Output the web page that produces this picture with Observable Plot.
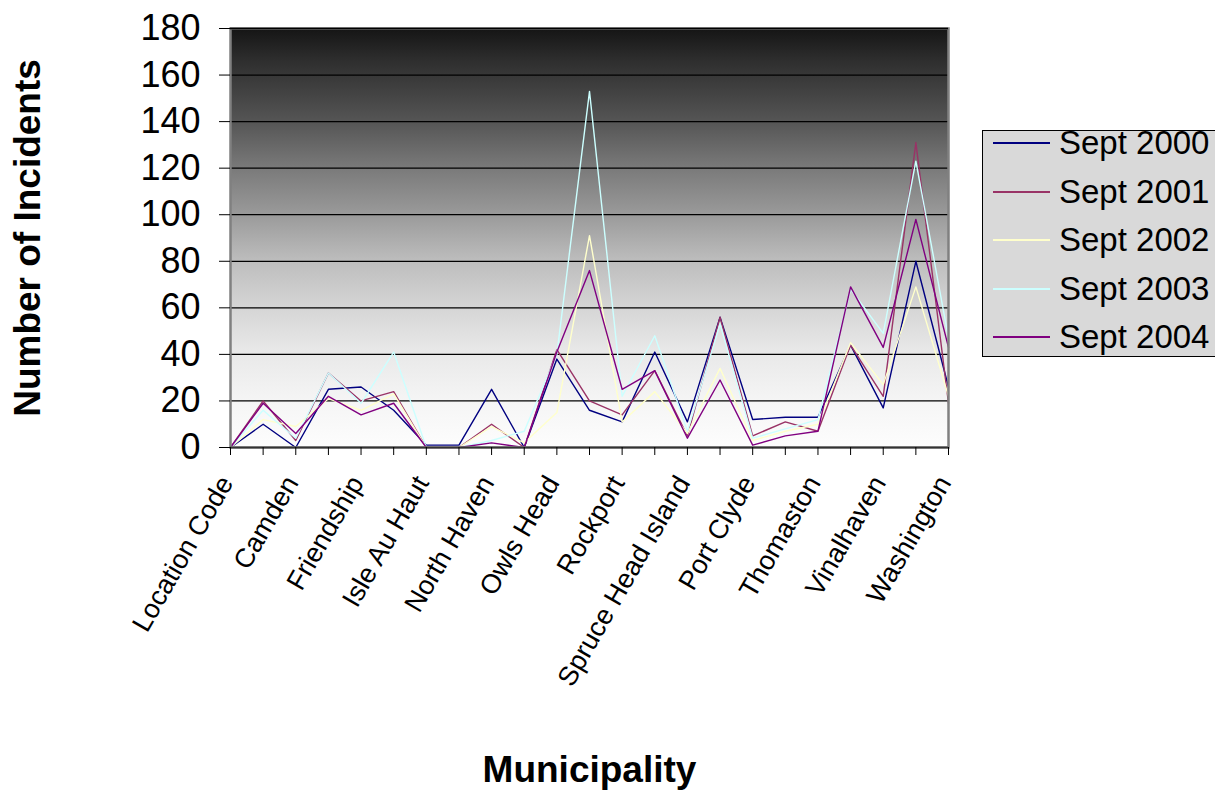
<!DOCTYPE html>
<html>
<head>
<meta charset="utf-8">
<script src="https://cdn.jsdelivr.net/npm/d3@7"></script>
<script src="https://cdn.jsdelivr.net/npm/@observablehq/plot@0.6"></script>
<style>
  html, body { margin: 0; padding: 0; background: #fff; overflow: hidden; }
  #wrap { position: relative; width: 1215px; height: 803px; }
  #legend { position: absolute; left: 982px; top: 130px; width: 250px; height: 227px;
    background: #d9d9d9; border: 1.5px solid #000; box-sizing: border-box;
    font-family: Arial, "Liberation Sans", sans-serif; font-size: 33px; color: #000; }
  .row { position: absolute; left: 0; height: 40px; display: flex; align-items: center; }
  .sw { width: 57px; height: 2px; margin-left: 10px; margin-right: 9px; }
</style>
</head>
<body>
<div id="wrap"><div id="legend"></div></div>
<script>
const categories = ["Location Code","Appleton","Camden","Cushing","Friendship","Hope","Isle Au Haut","Matinicus","North Haven","Monhegan","Owls Head","Rockland","Rockport","South Thomaston","Spruce Head Island","St. George","Port Clyde","Tenants Harbor","Thomaston","Union","Vinalhaven","Warren","Washington"];
const tickLabels = ["Location Code","Camden","Friendship","Isle Au Haut","North Haven","Owls Head","Rockport","Spruce Head Island","Port Clyde","Thomaston","Vinalhaven","Washington"];
const yTicks = [0,20,40,60,80,100,120,140,160,180];
const seriesNames = ["Sept 2000","Sept 2001","Sept 2002","Sept 2003","Sept 2004"];
const seriesColors = ["#000080","#993366","#ffffcc","#ccffff","#800080"];
const sept2000 = [0,10,0,25,26,16,1,1,25,0,38,16,11,41,11,56,12,13,13,44,17,80,26];
const sept2001 = [0,20,3,32,20,24,0,0,10,0,42,20,14,33,5,56,5,11,7,44,22,131,19];
const sept2002 = [0,12,9,21,16,23,0,0,9,2,15,91,11,24,6,34,3,7,10,45,27,69,22];
const sept2003 = [0,16,4,32,19,41,0,0,3,7,40,153,22,48,7,53,4,8,12,68,49,123,47];
const sept2004 = [0,19,6,22,14,19,0,0,2,0,41,76,25,33,4,29,1,5,7,69,43,98,43];
const seriesValues = [sept2000, sept2001, sept2002, sept2003, sept2004];

const rows = seriesNames.flatMap((s, j) =>
  categories.map((c, i) => ({category: c, value: seriesValues[j][i], series: s})));

const font = 'Arial, "Liberation Sans", sans-serif';
const W = 1215, H = 803, ML = 230, MR = 267, MT = 28, MB = 356;

const chart = Plot.plot({
  width: W, height: H,
  marginLeft: ML, marginRight: MR, marginTop: MT, marginBottom: MB,
  style: {fontFamily: font, background: "transparent", color: "#000", overflow: "visible"},
  x: {type: "point", domain: categories, padding: 0, round: false, range: [ML, W - MR]},
  y: {domain: [0, 180], range: [H - MB, MT]},
  color: {domain: seriesNames, range: seriesColors},
  marks: [
    Plot.frame({fill: "url(#bg)"}),
    Plot.ruleY(yTicks, {stroke: "#000", strokeWidth: 1.3}),
    Plot.line(rows, {x: "category", y: "value", z: "series", stroke: "series", strokeWidth: 1.4}),
    Plot.frame({stroke: "#808080", strokeWidth: 2.5}),
    Plot.ruleY([0], {stroke: "#333", strokeWidth: 1.5}),
    Plot.ruleY([180], {stroke: "#000", strokeWidth: 1.5}),
    Plot.axisY({ticks: yTicks, tickSize: 11, tickPadding: 19, fontSize: 36, label: null}),
    Plot.axisX({ticks: categories, tickSize: 8, tickFormat: () => "", label: null}),
    Plot.axisX({ticks: tickLabels, tickSize: 0, tickRotate: -60, fontSize: 27, tickPadding: 31,
      dx: -4, label: null}),
    Plot.text(["Number of Incidents"], {text: d => d, frameAnchor: "left", dx: -202, rotate: -90,
      textAnchor: "middle", fontSize: 37, fontWeight: "bold"}),
    Plot.text(["Municipality"], {text: d => d, frameAnchor: "bottom", dy: 334,
      textAnchor: "middle", fontSize: 37, fontWeight: "bold"})
  ]
});

// background gradient (dark top to white bottom)
const gradStops = [[0, 21], [0.076, 46], [0.222, 85], [0.334, 122], [0.444, 154],
  [0.554, 189], [0.666, 213], [0.768, 232], [0.888, 245], [1, 253]];
const defs = d3.select(chart).insert("defs", ":first-child");
const lg = defs.append("linearGradient").attr("id", "bg")
  .attr("x1", 0).attr("y1", 0).attr("x2", 0).attr("y2", 1);
gradStops.forEach(([o, v]) => lg.append("stop").attr("offset", o).attr("stop-color", d3.rgb(v, v, v).formatHex()));

document.getElementById("wrap").prepend(chart);
chart.style.position = "absolute";
chart.style.left = "0px";
chart.style.top = "0px";

// legend
const legend = document.getElementById("legend");
const rowCenters = [12, 60.5, 109, 157.5, 206];
seriesNames.forEach((s, j) => {
  const r = document.createElement("div");
  r.className = "row";
  r.style.top = (rowCenters[j] - 20) + "px";
  const sw = document.createElement("div");
  sw.className = "sw";
  sw.style.background = seriesColors[j];
  const t = document.createElement("span");
  t.textContent = s;
  r.appendChild(sw); r.appendChild(t);
  legend.appendChild(r);
});
</script>
</body>
</html>
